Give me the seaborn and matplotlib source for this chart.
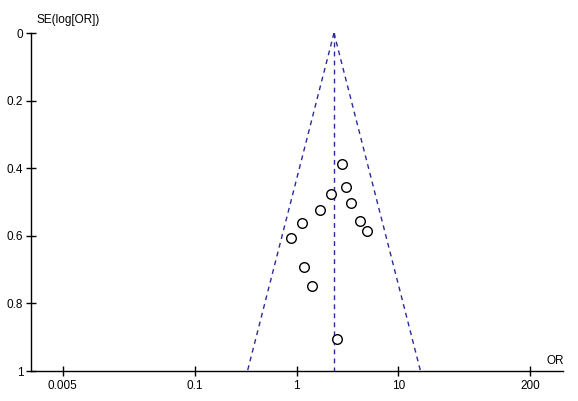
import numpy as np
import pandas as pd
import matplotlib
matplotlib.use("Agg")
import matplotlib.pyplot as plt
import seaborn as sns

# study estimates
odds_ratio = [2.79, 3.04, 2.19, 3.40, 1.71, 4.20, 1.13, 4.89, 0.873, 1.19, 1.41, 2.48]
se_log_or = [0.388, 0.455, 0.477, 0.502, 0.523, 0.556, 0.562, 0.585, 0.607, 0.693, 0.748, 0.905]
pooled_or = 2.33

x_ticks = [0.005, 0.1, 1, 10, 200]
x_tick_labels = ["0.005", "0.1", "1", "10", "200"]
y_ticks = [0, 0.2, 0.4, 0.6, 0.8, 1]
y_tick_labels = ["0", "0.2", "0.4", "0.6", "0.8", "1"]

df = pd.DataFrame({"OR": odds_ratio, "SE": se_log_or})

sns.set_style("white", {"xtick.bottom": True, "ytick.left": True})
plt.rcParams["font.family"] = ["Liberation Sans", "DejaVu Sans"]
plt.rcParams["text.color"] = "black"

fig = plt.figure(figsize=(5.78, 4.01), dpi=100)
ax = fig.add_axes([31 / 578, 1 - 371 / 401, (563 - 31) / 578, (371 - 33) / 401])

# funnel: pooled estimate +/- 1.96 SE
se_line = np.array([0.0, 1.0])
lo = np.exp(np.log(pooled_or) - 1.96 * se_line)
hi = np.exp(np.log(pooled_or) + 1.96 * se_line)
funnel_col = "#2a2a9c"
dash = (0, (3.5, 3))
ax.plot(lo, se_line, ls=dash, color=funnel_col, lw=1)
ax.plot(hi, se_line, ls=dash, color=funnel_col, lw=1)
ax.plot([pooled_or, pooled_or], [0, 1], ls=dash, color=funnel_col, lw=1)

sns.scatterplot(data=df, x="OR", y="SE", ax=ax, marker="o", s=48,
                facecolor="white", edgecolor="black", linewidth=1, zorder=3)

ax.set_xscale("log")
ax.set_xlim(0.00243, 418)
ax.set_ylim(1, 0)
ax.set_xticks(x_ticks)
ax.set_xticklabels(x_tick_labels)
ax.set_yticks(y_ticks)
ax.set_yticklabels(y_tick_labels)
ax.minorticks_off()
ax.set_xlabel("")
ax.set_ylabel("")

for side in ["top", "right"]:
    ax.spines[side].set_visible(False)
for side in ["left", "bottom"]:
    ax.spines[side].set_color("black")
    ax.spines[side].set_linewidth(1.0)

ax.tick_params(axis="both", direction="inout", length=7, width=1, color="black",
               labelsize=8.5, labelcolor="black", pad=2)
ax.tick_params(axis="x", pad=3)

ax.text(0.01, 1.02, "SE(log[OR])", transform=ax.transAxes, fontsize=8.5,
        ha="left", va="bottom", color="black")
ax.text(0.985, 0.012, "OR", transform=ax.transAxes, fontsize=8.5,
        ha="center", va="bottom", color="black")

fig.savefig("out.png", dpi=100)
